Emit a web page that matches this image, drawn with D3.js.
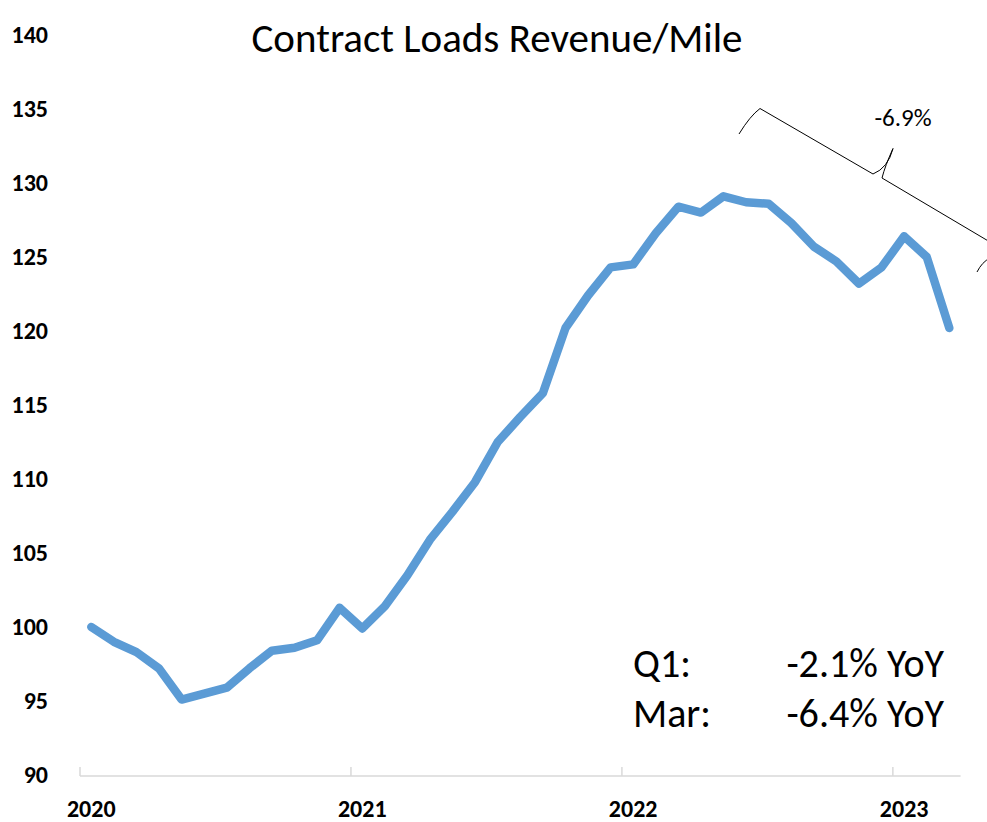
<!DOCTYPE html>
<html>
<head>
<meta charset="utf-8">
<script src="https://cdn.jsdelivr.net/npm/d3@7"></script>
<style>
  html, body { margin: 0; padding: 0; background: #fff; }
  svg { display: block; }
  text { font-family: Carlito, Lato, "Open Sans", sans-serif; }
</style>
</head>
<body>
<svg id="chart" width="987" height="822"></svg>
<script>
// ---- data ----
const months = [
  "2020-01","2020-02","2020-03","2020-04","2020-05","2020-06","2020-07","2020-08","2020-09","2020-10","2020-11","2020-12",
  "2021-01","2021-02","2021-03","2021-04","2021-05","2021-06","2021-07","2021-08","2021-09","2021-10","2021-11","2021-12",
  "2022-01","2022-02","2022-03","2022-04","2022-05","2022-06","2022-07","2022-08","2022-09","2022-10","2022-11","2022-12",
  "2023-01","2023-02","2023-03"
];
const revenuePerMile = [
  100.0, 99.0, 98.3, 97.2, 95.1, 95.5, 95.9, 97.2, 98.4, 98.6, 99.1, 101.3,
  99.9, 101.4, 103.5, 105.9, 107.8, 109.8, 112.5, 114.2, 115.8, 120.2, 122.4, 124.3,
  124.5, 126.6, 128.4, 128.0, 129.1, 128.7, 128.6, 127.3, 125.7, 124.7, 123.2, 124.3,
  126.4, 125.0, 120.2
];
const yTicks = [90, 95, 100, 105, 110, 115, 120, 125, 130, 135, 140];
const yearLabels = ["2020", "2021", "2022", "2023"];
const yearStartMonths = ["2020-01", "2021-01", "2022-01", "2023-01"];
const title = "Contract Loads Revenue/Mile";
const statRows = [["Q1:", "-2.1% YoY"], ["Mar:", "-6.4% YoY"]];
const braceLabel = "-6.9%";

// ---- layout ----
const svg = d3.select("#chart");
const plotLeft = 80, plotRight = 960.6, plotTop = 35, plotBottom = 775;

const x = d3.scaleBand().domain(months).range([plotLeft, plotRight]).paddingInner(0).paddingOuter(0);
const xc = m => x(m) + x.bandwidth() / 2;
const y = d3.scaleLinear().domain([90, 140]).range([plotBottom, plotTop]);

// title
svg.append("text")
  .attr("x", 497).attr("y", 52)
  .attr("text-anchor", "middle")
  .attr("font-size", 41)
  .attr("fill", "#000")
  .text(title);

// y axis labels
const yAxis = d3.axisLeft(y).tickValues(yTicks).tickSize(0).tickPadding(0);
const yg = svg.append("g").attr("transform", `translate(48,0)`).call(yAxis);
yg.select(".domain").remove();
yg.selectAll("text")
  .attr("font-size", 24).attr("font-weight", "bold").attr("fill", "#000")
  .style("font-family", "Carlito, Lato, sans-serif");

// x axis line + ticks at year boundaries
svg.append("line")
  .attr("x1", plotLeft).attr("x2", plotRight)
  .attr("y1", plotBottom + 1).attr("y2", plotBottom + 1)
  .attr("stroke", "#d9d9d9").attr("stroke-width", 1.5);
const boundaries = yearStartMonths.map(m => x(m));
svg.selectAll(".ytick-mark").data(boundaries).enter().append("line")
  .attr("x1", d => d).attr("x2", d => d)
  .attr("y1", plotBottom - 8).attr("y2", plotBottom + 1)
  .attr("stroke", "#d9d9d9").attr("stroke-width", 1.5);

// year labels
svg.selectAll(".yearlab").data(yearLabels).enter().append("text")
  .attr("x", (d, i) => xc(yearStartMonths[i]))
  .attr("y", 817)
  .attr("text-anchor", "middle")
  .attr("font-size", 24).attr("font-weight", "bold").attr("fill", "#000")
  .text(d => d);

// line
const line = d3.line()
  .x((d, i) => xc(months[i]))
  .y(d => y(d));
svg.append("path")
  .datum(revenuePerMile)
  .attr("d", line)
  .attr("fill", "none")
  .attr("stroke", "#5b9bd5")
  .attr("stroke-width", 8.5)
  .attr("stroke-linejoin", "round")
  .attr("stroke-linecap", "round");

// stats text
statRows.forEach((r, i) => {
  svg.append("text").attr("x", 633).attr("y", 677 + i * 50)
    .attr("font-size", 40).attr("fill", "#000").text(r[0]);
  svg.append("text").attr("x", 944).attr("y", 677 + i * 50)
    .attr("text-anchor", "end")
    .attr("font-size", 40).attr("fill", "#000").text(r[1]);
});

// brace annotation
svg.append("path")
  .attr("d", "M739,134 Q750,116 760,108.5 L873,174 Q888,168 893,148.5 Q885,166 882,178 L990,242")
  .attr("fill", "none").attr("stroke", "#000").attr("stroke-width", 1);
svg.append("path")
  .attr("d", "M977,272 Q982,262 990,258")
  .attr("fill", "none").attr("stroke", "#000").attr("stroke-width", 1);
svg.append("text")
  .attr("x", 903).attr("y", 126)
  .attr("text-anchor", "middle")
  .attr("font-size", 25).attr("fill", "#000")
  .text(braceLabel);
</script>
</body>
</html>
